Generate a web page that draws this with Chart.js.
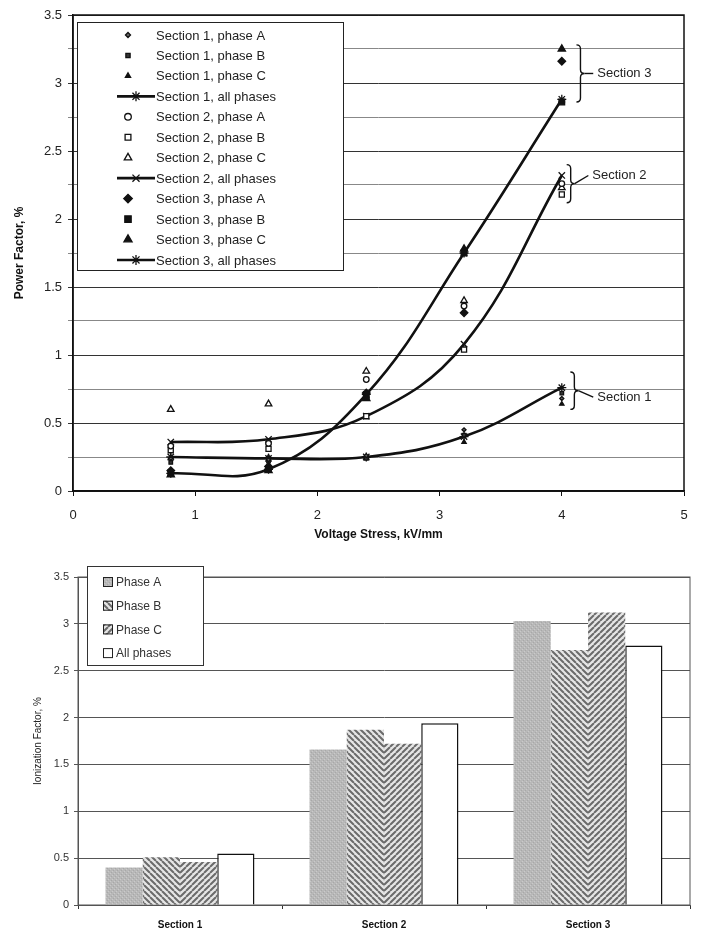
<!DOCTYPE html>
<html>
<head>
<meta charset="utf-8">
<script src="https://cdn.jsdelivr.net/npm/chart.js@4.4.1/dist/chart.umd.min.js"></script>
<style>
    body { margin: 0; background: #fff; width: 701px; height: 935px; overflow: hidden; }
    #cajaPF { position: absolute; left: 0; top: 0; width: 701px; height: 545px; }
    #cajaIF { position: absolute; left: 0; top: 555px; width: 701px; height: 380px; }
</style>
</head>
<body>
<div id="cajaPF"><canvas id="graficaPF"></canvas></div>
<div id="cajaIF"><canvas id="graficaIF"></canvas></div>
<script>
// --- datos: power factor vs voltage stress
const voltaje = [0.8, 1.6, 2.4, 3.2, 4.0];
const s1FaseA = [0.24, 0.23, 0.26, 0.45, 0.68];
const s1FaseB = [0.21, 0.22, 0.24, 0.41, 0.72];
const s1FaseC = [0.25, 0.25, 0.25, 0.36, 0.64];
const s1Todas = [0.25, 0.24, 0.25, 0.40, 0.76];
const s2FaseA = [0.33, 0.35, 0.82, 1.36, 2.26];
const s2FaseB = [0.30, 0.31, 0.55, 1.04, 2.18];
const s2FaseC = [0.60, 0.64, 0.88, 1.40, 2.23];
const s2Todas = [0.36, 0.38, 0.55, 1.08, 2.32];
const s3FaseA = [0.15, 0.18, 0.72, 1.31, 3.16];
const s3FaseB = [0.13, 0.16, 0.70, 1.75, 2.86];
const s3FaseC = [0.12, 0.15, 0.68, 1.78, 3.25];
const s3Todas = [0.13, 0.16, 0.71, 1.75, 2.88];

// --- datos: ionization factor
const secciones = ["Section 1", "Section 2", "Section 3"];
const ionFaseA = [0.40, 1.66, 3.03];
const ionFaseB = [0.51, 1.87, 2.72];
const ionFaseC = [0.46, 1.72, 3.12];
const ionTodas = [0.55, 1.94, 2.77];

// llaves de anotacion (en unidades de datos)
const llaves = [
    { texto: "Section 3", x: 4.12, arriba: 3.28, abajo: 2.86, tx: 4.29, ty: 3.07 },
    { texto: "Section 2", x: 4.04, arriba: 2.40, abajo: 2.12, tx: 4.25, ty: 2.32 },
    { texto: "Section 1", x: 4.07, arriba: 0.875, abajo: 0.60, tx: 4.29, ty: 0.69 }
];

const FUENTE = "'Liberation Sans', Arial, sans-serif";

function puntos(valores) {
    return voltaje.map((v, i) => ({ x: v, y: valores[i] }));
}

function serie(label, valores, estilo, radio, relleno, linea) {
    return {
        label: label,
        data: puntos(valores),
        pointStyle: estilo,
        pointRadius: radio,
        pointBackgroundColor: relleno,
        pointBorderColor: "#111",
        pointBorderWidth: 1.3,
        borderColor: "#111",
        borderWidth: 2.6,
        showLine: !!linea,
        tension: 0.4
    };
}

const leyendaPF = {
    id: "leyendaPF",
    afterDraw(chart) {
        const ctx = chart.ctx;
        const a = chart.chartArea;
        const x0 = a.left + 4, y0 = a.top + 7;
        ctx.save();
        ctx.fillStyle = "#fff";
        ctx.fillRect(x0, y0, 266, 248);
        ctx.strokeStyle = "#222";
        ctx.lineWidth = 1;
        ctx.strokeRect(x0 + 0.5, y0 + 0.5, 266, 248);
        ctx.font = "13px " + FUENTE;
        ctx.textBaseline = "middle";
        chart.data.datasets.forEach((ds, i) => {
            const y = y0 + 13 + i * 20.45;
            if (ds.showLine) {
                ctx.strokeStyle = "#111";
                ctx.lineWidth = 2.6;
                ctx.beginPath();
                ctx.moveTo(x0 + 40, y);
                ctx.lineTo(x0 + 78, y);
                ctx.stroke();
            }
            ctx.fillStyle = ds.pointBackgroundColor;
            ctx.strokeStyle = "#111";
            ctx.lineWidth = 1.3;
            Chart.helpers.drawPoint(ctx, {
                pointStyle: ds.pointStyle, radius: ds.pointRadius + 0.5, borderWidth: 1.3, rotation: 0
            }, ds.showLine ? x0 + 59 : x0 + 51, y);
            ctx.fillStyle = "#222";
            ctx.fillText(ds.label, x0 + 79, y + 1);
        });
        ctx.restore();
    }
};

const marcoYLlaves = {
    id: "marcoYLlaves",
    beforeDatasetsDraw(chart) {
        const a = chart.chartArea;
        const ctx = chart.ctx;
        ctx.save();
        ctx.strokeStyle = "#111";
        ctx.lineWidth = 1.5;
        ctx.strokeRect(a.left, a.top, a.right - a.left, a.bottom - a.top);
        ctx.restore();
    },
    afterDatasetsDraw(chart) {
        const ctx = chart.ctx;
        const sx = chart.scales.x, sy = chart.scales.y;
        ctx.save();
        ctx.strokeStyle = "#111";
        ctx.lineWidth = 1.4;
        ctx.font = "13px " + FUENTE;
        ctx.fillStyle = "#222";
        ctx.textBaseline = "middle";
        llaves.forEach(l => {
            const x = sx.getPixelForValue(l.x);
            const y1 = sy.getPixelForValue(l.arriba);
            const y2 = sy.getPixelForValue(l.abajo);
            const ym = (y1 + y2) / 2;
            const w = 8, r = 4;
            ctx.beginPath();
            ctx.moveTo(x, y1);
            ctx.quadraticCurveTo(x + w / 2, y1, x + w / 2, y1 + r);
            ctx.lineTo(x + w / 2, ym - r);
            ctx.quadraticCurveTo(x + w / 2, ym, x + w, ym);
            ctx.quadraticCurveTo(x + w / 2, ym, x + w / 2, ym + r);
            ctx.lineTo(x + w / 2, y2 - r);
            ctx.quadraticCurveTo(x + w / 2, y2, x, y2);
            ctx.stroke();
            const tx = sx.getPixelForValue(l.tx);
            ctx.beginPath();
            ctx.moveTo(x + w, ym);
            ctx.lineTo(tx - 4, sy.getPixelForValue(l.ty));
            ctx.stroke();
            ctx.fillText(l.texto, tx, sy.getPixelForValue(l.ty));
        });
        ctx.restore();
    }
};

new Chart(document.getElementById("graficaPF").getContext("2d"), {
    type: "scatter",
    data: {
        datasets: [
            serie("Section 1, phase A", s1FaseA, "rectRot", 2, "#666"),
            serie("Section 1, phase B", s1FaseB, "rect", 2.5, "#333"),
            serie("Section 1, phase C", s1FaseC, "triangle", 2.5, "#111"),
            serie("Section 1, all phases", s1Todas, "star", 4.5, "#111", true),
            serie("Section 2, phase A", s2FaseA, "circle", 2.8, "#fff"),
            serie("Section 2, phase B", s2FaseB, "rect", 3.6, "#fff"),
            serie("Section 2, phase C", s2FaseC, "triangle", 3.8, "#fff"),
            serie("Section 2, all phases", s2Todas, "crossRot", 4.5, "#111", true),
            serie("Section 3, phase A", s3FaseA, "rectRot", 3.8, "#111"),
            serie("Section 3, phase B", s3FaseB, "rect", 4, "#111"),
            serie("Section 3, phase C", s3FaseC, "triangle", 4.2, "#111"),
            serie("Section 3, all phases", s3Todas, "star", 4.5, "#111", true)
        ]
    },
    options: {
        responsive: true,
        maintainAspectRatio: false,
        animation: false,
        layout: { padding: { top: 15, right: 17, left: 0, bottom: 0 } },
        plugins: { legend: { display: false }, tooltip: { enabled: false } },
        scales: {
            x: {
                type: "linear", min: 0, max: 5,
                afterFit: s => { s.height = 54; },
                ticks: { stepSize: 1, padding: 12, color: "#222", font: { size: 13, family: FUENTE } },
                grid: { drawOnChartArea: false, drawTicks: true, tickLength: 5, color: "#111" },
                border: { color: "#111", width: 1.5 },
                title: {
                    display: true, text: "Voltage Stress, kV/mm", color: "#111",
                    font: { size: 12, weight: "bold", family: FUENTE }, padding: { top: 0, bottom: 3 }
                }
            },
            y: {
                min: 0, max: 3.5,
                afterFit: s => { s.width = 73; },
                ticks: {
                    stepSize: 0.25, color: "#222", padding: 6,
                    font: { size: 13, family: FUENTE },
                    callback: v => Math.abs(v * 2 - Math.round(v * 2)) < 1e-6 ? v : ""
                },
                grid: {
                    color: c => Math.abs(c.tick.value * 2 - Math.round(c.tick.value * 2)) < 1e-6 ? "#333" : "#888",
                    tickLength: 5
                },
                border: { color: "#111", width: 1.5 },
                title: {
                    display: true, text: "Power Factor, %", color: "#111",
                    font: { size: 12, weight: "bold", family: FUENTE }, padding: { top: 12, bottom: 0 }
                }
            }
        }
    },
    plugins: [marcoYLlaves, leyendaPF]
});

// --- tramas para las barras
function tramaGris() {
    const c = document.createElement("canvas");
    c.width = 4; c.height = 4;
    const g = c.getContext("2d");
    g.fillStyle = "#b8b8b8";
    g.fillRect(0, 0, 4, 4);
    g.fillStyle = "#cacaca";
    g.fillRect(0, 0, 1, 1);
    g.fillRect(2, 2, 1, 1);
    g.fillStyle = "#a8a8a8";
    g.fillRect(1, 3, 1, 1);
    g.fillRect(3, 1, 1, 1);
    return g.createPattern(c, "repeat");
}

function tramaRayas(inversa) {
    const n = 6;
    const c = document.createElement("canvas");
    c.width = n; c.height = n;
    const g = c.getContext("2d");
    g.fillStyle = "#e6e6e6";
    g.fillRect(0, 0, n, n);
    g.strokeStyle = "#6b6b6b";
    g.lineWidth = 2;
    g.beginPath();
    for (let k = -1; k <= 1; k++) {
        if (inversa) {
            g.moveTo(k * n, n); g.lineTo(k * n + n, 0);
        } else {
            g.moveTo(k * n, 0); g.lineTo(k * n + n, n);
        }
    }
    g.stroke();
    return g.createPattern(c, "repeat");
}

const leyendaIF = {
    id: "leyendaIF",
    afterDraw(chart) {
        const ctx = chart.ctx;
        const a = chart.chartArea;
        const x0 = a.left + 9, y0 = a.top - 11;
        ctx.save();
        ctx.fillStyle = "#fff";
        ctx.fillRect(x0, y0, 116, 99);
        ctx.strokeStyle = "#333";
        ctx.lineWidth = 1;
        ctx.strokeRect(x0 + 0.5, y0 + 0.5, 116, 99);
        ctx.font = "12px " + FUENTE;
        ctx.textBaseline = "middle";
        chart.data.datasets.forEach((ds, i) => {
            const y = y0 + 16 + i * 23.7;
            ctx.fillStyle = ds.backgroundColor;
            ctx.fillRect(x0 + 16, y - 5, 10, 10);
            ctx.strokeStyle = "#222";
            ctx.strokeRect(x0 + 16.5, y - 4.5, 9, 9);
            ctx.fillStyle = "#333";
            ctx.fillText(ds.label, x0 + 29, y + 1);
        });
        ctx.restore();
    }
};

const marcoIF = {
    id: "marcoIF",
    beforeDatasetsDraw(chart) {
        const a = chart.chartArea;
        const ctx = chart.ctx;
        ctx.save();
        ctx.strokeStyle = "#555";
        ctx.lineWidth = 1;
        ctx.strokeRect(a.left, a.top, a.right - a.left, a.bottom - a.top);
        ctx.restore();
    }
};

new Chart(document.getElementById("graficaIF").getContext("2d"), {
    type: "bar",
    data: {
        labels: secciones,
        datasets: [
            { label: "Phase A", data: ionFaseA, backgroundColor: tramaGris(), borderWidth: 0 },
            { label: "Phase B", data: ionFaseB, backgroundColor: tramaRayas(false), borderWidth: 0 },
            { label: "Phase C", data: ionFaseC, backgroundColor: tramaRayas(true), borderWidth: 0 },
            { label: "All phases", data: ionTodas, backgroundColor: "#fff", borderColor: "#111", borderWidth: 1.5 }
        ]
    },
    options: {
        responsive: true,
        maintainAspectRatio: false,
        animation: false,
        layout: { padding: { top: 22, right: 11, left: 0, bottom: 0 } },
        plugins: { legend: { display: false }, tooltip: { enabled: false } },
        datasets: { bar: { categoryPercentage: 0.73, barPercentage: 1 } },
        scales: {
            x: {
                afterFit: s => { s.height = 30; },
                ticks: { padding: 10, color: "#111", font: { size: 10, weight: "bold", family: FUENTE } },
                grid: { offset: true, drawOnChartArea: false, tickLength: 4, color: "#333" },
                border: { color: "#555", width: 1 }
            },
            y: {
                min: 0, max: 3.5,
                afterFit: s => { s.width = 78; },
                ticks: {
                    stepSize: 0.5, color: "#333", padding: 5,
                    font: { size: 11, family: FUENTE },
                    callback: v => String(Math.round(v * 10) / 10)
                },
                grid: { color: "#555", tickLength: 4 },
                border: { color: "#555", width: 1 },
                title: {
                    display: true, text: "Ionization Factor, %", color: "#222",
                    font: { size: 10, family: FUENTE }, padding: { top: 32, bottom: 0 }
                }
            }
        }
    },
    plugins: [marcoIF, leyendaIF]
});
</script>
</body>
</html>
